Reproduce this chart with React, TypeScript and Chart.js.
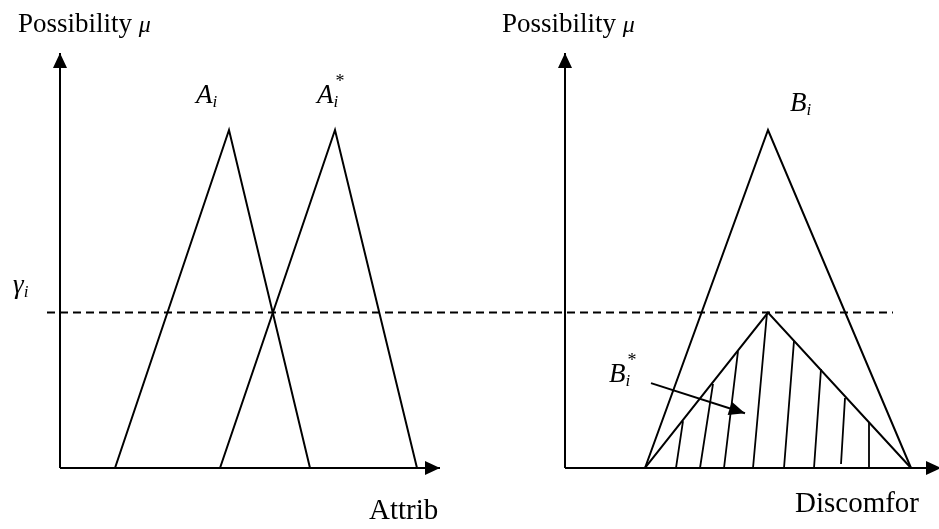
import React, { useEffect, useRef } from "react";
import { Chart, registerables } from "chart.js";

Chart.register(...registerables);

// ---- data (x: attribute / discomfort position, y: possibility μ) ----
const GAMMA = 0.46;
const AXIS_TOP = 1.228;

const aiX = [115, 229, 310];
const aiY = [0, 1, 0];
const aStarX = [220, 335, 417];
const aStarY = [0, 1, 0];
const biX = [645, 768, 911];
const biY = [0, 1, 0];
const bStarX = [645, 768, 911];
const bStarY = [0, GAMMA, 0];

const gammaLineX = [47, 893];

const leftAxisX = 60;
const leftAxisEnd = 440;
const rightAxisX = 565;
const rightAxisEnd = 941;

const hatchBottomX = [676, 700, 724, 753, 784, 814, 841, 869];
const hatchBottomY = [0, 0, 0, 0, 0, 0, 0.012, 0];
const hatchTopX = [683, 713, 738, 767, 794, 821, 845, 869];
const hatchTopY = [0.139, 0.249, 0.346, 0.459, 0.376, 0.293, 0.207, 0.136];

const pointerX = [651, 745];
const pointerY = [0.251, 0.162];

const FONT = "'Liberation Serif', 'Times New Roman', serif";

type Label = { x: number; y: number; text: string; size: number; italic?: boolean; sub?: string; sup?: string };
const labels: Label[] = [
  { x: 18, y: 1.29, text: "Possibility ", size: 27 },
  { x: 502, y: 1.29, text: "Possibility ", size: 27 },
  { x: 13, y: 0.519, text: "γ", size: 27, italic: true, sub: "i" },
  { x: 196, y: 1.08, text: "A", size: 27, italic: true, sub: "i" },
  { x: 317, y: 1.08, text: "A", size: 27, italic: true, sub: "i", sup: "*" },
  { x: 790, y: 1.056, text: "B", size: 27, italic: true, sub: "i" },
  { x: 609, y: 0.254, text: "B", size: 27, italic: true, sub: "i", sup: "*" },
  { x: 369, y: -0.151, text: "Attrib", size: 29 },
  { x: 795, y: -0.13, text: "Discomfor", size: 29 },
];

const pts = (xs: number[], ys: number[]) => xs.map((x, i) => ({ x, y: ys[i] }));

const hatchData: any[] = [];
hatchBottomX.forEach((bx, i) => {
  hatchData.push({ x: bx, y: hatchBottomY[i] });
  hatchData.push({ x: hatchTopX[i], y: hatchTopY[i] });
  hatchData.push({ x: bx + 0.5, y: null });
});

const line = (data: any[], extra: any = {}) => ({
  data,
  showLine: true,
  borderColor: "#000",
  borderWidth: 2,
  pointRadius: 0,
  fill: false,
  tension: 0,
  spanGaps: false,
  ...extra,
});

const arrowPlugin = {
  id: "arrows",
  afterDatasetsDraw(chart: any) {
    const ctx = chart.ctx;
    const xs = chart.scales.x;
    const ys = chart.scales.y;
    chart.data.datasets.forEach((ds: any) => {
      if (!ds.arrow) return;
      const d = ds.data;
      const p1 = d[d.length - 2];
      const p2 = d[d.length - 1];
      const x1 = xs.getPixelForValue(p1.x), y1 = ys.getPixelForValue(p1.y);
      const x2 = xs.getPixelForValue(p2.x), y2 = ys.getPixelForValue(p2.y);
      const ang = Math.atan2(y2 - y1, x2 - x1);
      const len = ds.arrow.len, half = ds.arrow.half;
      ctx.save();
      ctx.fillStyle = "#000";
      ctx.beginPath();
      ctx.moveTo(x2, y2);
      ctx.lineTo(x2 - len * Math.cos(ang) + half * Math.sin(ang), y2 - len * Math.sin(ang) - half * Math.cos(ang));
      ctx.lineTo(x2 - len * Math.cos(ang) - half * Math.sin(ang), y2 - len * Math.sin(ang) + half * Math.cos(ang));
      ctx.closePath();
      ctx.fill();
      ctx.restore();
    });
  },
};

const labelPlugin = {
  id: "labels",
  afterDraw(chart: any) {
    const ctx = chart.ctx;
    const xs = chart.scales.x;
    const ys = chart.scales.y;
    ctx.save();
    ctx.fillStyle = "#000";
    ctx.textBaseline = "alphabetic";
    ctx.textAlign = "left";
    labels.forEach((l) => {
      const px = xs.getPixelForValue(l.x);
      const py = ys.getPixelForValue(l.y);
      ctx.font = `${l.italic ? "italic " : ""}${l.size}px ${FONT}`;
      ctx.fillText(l.text, px, py);
      let w = ctx.measureText(l.text).width;
      if (l.text.startsWith("Possibility")) {
        ctx.font = `italic ${l.size - 3}px ${FONT}`;
        ctx.fillText("μ", px + w, py);
      }
      if (l.sub) {
        ctx.font = `italic ${Math.round(l.size * 0.64)}px ${FONT}`;
        ctx.fillText(l.sub, px + w, py + 4);
      }
      if (l.sup) {
        ctx.font = `${Math.round(l.size * 0.68)}px ${FONT}`;
        ctx.fillText(l.sup, px + w + 2, py - 16);
      }
    });
    ctx.restore();
  },
};

export default function App() {
  const ref = useRef<HTMLCanvasElement>(null);
  useEffect(() => {
    if (!ref.current) return;
    const chart = new Chart(ref.current, {
      type: "scatter",
      data: {
        datasets: [
          line(pts([leftAxisX, leftAxisX], [0, AXIS_TOP]), { arrow: { len: 15, half: 7 } }),
          line(pts([leftAxisX, leftAxisEnd], [0, 0]), { arrow: { len: 15, half: 7 } }),
          line(pts([rightAxisX, rightAxisX], [0, AXIS_TOP]), { arrow: { len: 15, half: 7 } }),
          line(pts([rightAxisX, rightAxisEnd], [0, 0]), { arrow: { len: 15, half: 7 } }),
          line(pts(gammaLineX, [GAMMA, GAMMA]), { borderDash: [8, 5], borderWidth: 1.8 }),
          line(pts(aiX, aiY)),
          line(pts(aStarX, aStarY)),
          line(pts(biX, biY)),
          line(pts(bStarX, bStarY)),
          line(hatchData, { borderWidth: 1.8 }),
          line(pts(pointerX, pointerY), { arrow: { len: 16, half: 7 } }),
        ] as any,
      },
      options: {
        responsive: false,
        animation: false,
        devicePixelRatio: 1,
        layout: { padding: 0 },
        plugins: { legend: { display: false }, tooltip: { enabled: false } },
        events: [],
        scales: {
          x: { type: "linear", min: 0, max: 939, display: false },
          y: { type: "linear", min: -0.1805, max: 1.3846, display: false },
        },
      } as any,
      plugins: [arrowPlugin, labelPlugin],
    });
    return () => chart.destroy();
  }, []);
  return (
    <div style={{ position: "absolute", left: 0, top: 0, width: 939, height: 529, background: "#fff" }}>
      <canvas ref={ref} width={939} height={529} />
    </div>
  );
}
